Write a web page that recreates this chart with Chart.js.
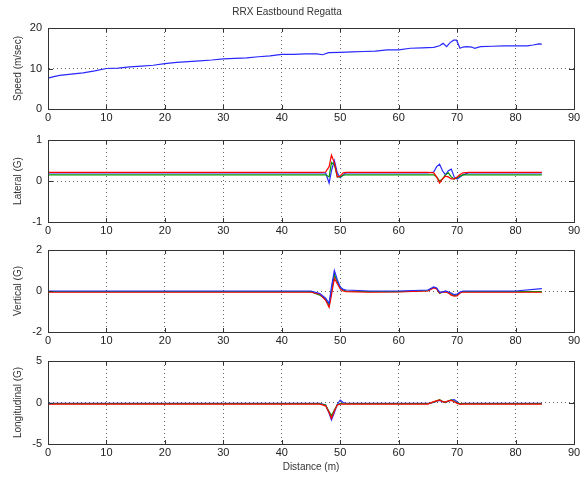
<!DOCTYPE html>
<html>
<head>
<meta charset="utf-8">
<title>RRX Eastbound Regatta</title>
<script src="https://cdn.jsdelivr.net/npm/chart.js@4"></script>
<style>
  body { margin: 0; background: #fff; }
  #wrap { position: relative; width: 583px; height: 481px; }
  canvas { position: absolute; left: 0; }
  .box { position: absolute; box-sizing: border-box; border: 1px solid #333; pointer-events: none; }
</style>
</head>
<body>
<div id="wrap">
  <canvas id="c1" width="583" height="125" style="top:0px"></canvas>
  <canvas id="c2" width="583" height="116" style="top:122px"></canvas>
  <canvas id="c3" width="583" height="116" style="top:232px"></canvas>
  <canvas id="c4" width="583" height="138" style="top:343px"></canvas>
</div>
<script>
// speed trace
const speedDist = [0, 1, 2, 4, 6, 8, 10, 12, 14, 16, 18, 20, 22, 24, 26, 28, 30, 32, 34, 36, 38, 40, 42, 44, 46, 47, 48, 50, 52, 54, 56, 58, 60, 62, 64, 66, 67, 67.6, 68.2, 68.8, 69.4, 69.9, 70.5, 71, 71.6, 72.5, 73, 74, 76, 78, 80, 82, 83, 84, 84.5];
const speed =     [7.6, 8.0, 8.3, 8.6, 8.9, 9.4, 10.0, 10.1, 10.4, 10.6, 10.8, 11.2, 11.5, 11.7, 11.9, 12.1, 12.4, 12.5, 12.6, 12.9, 13.1, 13.5, 13.5, 13.6, 13.6, 13.4, 13.9, 14.0, 14.1, 14.2, 14.3, 14.6, 14.6, 15.0, 15.1, 15.2, 15.6, 16.2, 15.4, 16.4, 17.0, 17.0, 15.0, 15.3, 15.4, 15.3, 15.0, 15.4, 15.5, 15.6, 15.6, 15.6, 15.8, 16.1, 16.0];

// accelerometer traces (three sensors: blue, green, red)
const gDist = [0, 10, 20, 30, 40, 45, 46.5, 47.5, 48.1, 48.5, 49, 49.5, 50, 50.5, 51, 55, 60, 65, 66, 66.5, 67, 67.5, 68, 68.5, 69, 69.5, 70, 70.5, 71, 72, 75, 80, 84.5];

const latBlue  = [0.2, 0.2, 0.2, 0.2, 0.2, 0.2, 0.2, 0.2, -0.05, 0.25, 0.5, 0.2, 0.08, 0.15, 0.2, 0.2, 0.2, 0.2, 0.22, 0.35, 0.41, 0.25, 0.15, 0.25, 0.29, 0.1, 0.05, 0.1, 0.15, 0.2, 0.2, 0.2, 0.2];
const latGreen = [0.15, 0.15, 0.15, 0.15, 0.15, 0.15, 0.15, 0.15, 0.1, 0.45, 0.4, 0.1, 0.1, 0.14, 0.15, 0.15, 0.15, 0.15, 0.15, 0.1, 0.0, 0.05, 0.15, 0.2, 0.1, 0.05, 0.08, 0.12, 0.15, 0.15, 0.15, 0.15, 0.15];
const latRed   = [0.21, 0.21, 0.21, 0.21, 0.21, 0.21, 0.21, 0.22, 0.35, 0.63, 0.45, 0.1, 0.12, 0.2, 0.21, 0.21, 0.21, 0.21, 0.2, 0.1, -0.05, 0.05, 0.12, 0.1, 0.05, 0.05, 0.1, 0.16, 0.2, 0.21, 0.21, 0.21, 0.21];

const vertBlue  = [0, 0, 0, 0, 0, 0, -0.12, -0.35, -0.6, 0.2, 1.0, 0.55, 0.2, 0.08, 0.05, 0, 0, 0.05, 0.2, 0.15, -0.05, -0.05, 0, -0.05, -0.1, -0.18, -0.15, -0.05, 0, 0, 0, 0, 0.12];
const vertGreen = [-0.03, -0.03, -0.03, -0.03, -0.03, -0.03, -0.2, -0.4, -0.7, 0.0, 0.8, 0.45, 0.15, 0.05, 0, -0.03, -0.03, 0.02, 0.18, 0.12, -0.12, -0.05, -0.02, -0.08, -0.15, -0.22, -0.2, -0.08, -0.03, -0.03, -0.03, -0.03, -0.03];
const vertRed   = [-0.06, -0.06, -0.06, -0.06, -0.06, -0.06, -0.15, -0.45, -0.8, -0.2, 0.62, 0.35, 0.1, 0.0, -0.03, -0.06, -0.05, 0.0, 0.15, 0.1, -0.1, -0.05, -0.05, -0.1, -0.2, -0.25, -0.24, -0.1, -0.05, -0.06, -0.06, -0.06, -0.06];

const lonBlue  = [-0.1, -0.1, -0.1, -0.1, -0.1, -0.1, -0.1, -0.3, -1.3, -2.1, -1.2, -0.2, 0.3, 0.0, -0.1, -0.1, -0.1, -0.1, 0.0, 0.15, 0.25, 0.1, 0.0, 0.15, 0.3, 0.35, 0.1, -0.2, -0.1, -0.1, -0.1, -0.1, -0.1];
const lonGreen = [-0.15, -0.15, -0.15, -0.15, -0.15, -0.15, -0.15, -0.3, -1.1, -1.6, -0.9, -0.3, -0.1, -0.15, -0.15, -0.15, -0.15, -0.15, 0.05, 0.2, 0.35, 0.15, 0.0, 0.2, 0.3, 0.15, -0.05, -0.15, -0.15, -0.15, -0.15, -0.15, -0.15];
const lonRed   = [-0.2, -0.2, -0.2, -0.2, -0.2, -0.2, -0.2, -0.4, -1.2, -1.9, -1.0, -0.3, -0.2, -0.2, -0.2, -0.2, -0.2, -0.2, 0.1, 0.2, 0.3, 0.1, 0.05, 0.2, 0.25, 0.1, -0.1, -0.2, -0.2, -0.2, -0.2, -0.2, -0.2];

const xTicks = [0, 10, 20, 30, 40, 50, 60, 70, 80, 90];

const BLUE = 'rgb(40,40,255)';
const GREEN = 'rgb(0,150,0)';
const RED = 'rgb(255,0,0)';
const AXIS = '#333';
const FONT = { family: 'Liberation Sans, Arial, sans-serif', size: 11 };

const pts = (xs, ys) => xs.map((x, k) => ({ x: x, y: ys[k] }));

// short inward tick marks on all four sides, matlab style
const inTicks = {
  id: 'inTicks',
  afterDatasetsDraw(chart) {
    const { ctx, chartArea: a, scales } = chart;
    ctx.save();
    ctx.setLineDash([]);
    ctx.strokeStyle = AXIS;
    ctx.lineWidth = 1;
    ctx.beginPath();
    scales.x.ticks.forEach(tk => {
      const px = Math.round(scales.x.getPixelForValue(tk.value)) + 0.5;
      ctx.moveTo(px, a.bottom); ctx.lineTo(px, a.bottom - 4);
      ctx.moveTo(px, a.top); ctx.lineTo(px, a.top + 4);
    });
    scales.y.ticks.forEach(tk => {
      const py = Math.round(scales.y.getPixelForValue(tk.value)) + 0.5;
      ctx.moveTo(a.left, py); ctx.lineTo(a.left + 5, py);
      ctx.moveTo(a.right, py); ctx.lineTo(a.right - 5, py);
    });
    ctx.stroke();
    ctx.restore();
  }
};

// top/right axes only carry the box edges
const edge = (pos, min, max) => ({
  type: 'linear', position: pos, min: min, max: max,
  ticks: { display: false },
  grid: { display: false, drawTicks: false },
  border: { display: true, color: AXIS, width: 1 },
  afterFit: s => { if (pos === 'top') s.height = 0; else s.width = 0; }
});

function makeChart(id, opts) {
  const canvas = document.getElementById(id);
  const chart = new Chart(canvas, {
    type: 'line',
    data: { datasets: opts.sets.map(s => ({
      data: s.data, borderColor: s.color, borderWidth: 1.2,
      pointRadius: 0, tension: 0, fill: false
    })) },
    options: {
      responsive: false,
      animation: false,
      layout: { padding: { left: 0, right: 9, top: opts.padTop, bottom: 0 } },
      plugins: {
        legend: { display: false },
        tooltip: { enabled: false },
        title: opts.title ? {
          display: true, text: opts.title, color: AXIS,
          font: { family: FONT.family, size: 10, weight: 'normal' },
          padding: { top: 6, bottom: 10 }
        } : { display: false }
      },
      scales: {
        x: {
          type: 'linear', min: 0, max: 90,
          afterBuildTicks: s => { s.ticks = xTicks.map(v => ({ value: v })); },
          afterFit: s => { s.height = opts.xHeight; },
          ticks: { color: '#222', font: FONT, padding: 2, maxRotation: 0 },
          grid: { color: 'rgba(0,0,0,0.6)', drawTicks: false },
          border: { display: true, color: AXIS, width: 1, dash: [1, 3] },
          title: opts.xTitle ? {
            display: true, text: opts.xTitle, color: AXIS,
            font: { family: FONT.family, size: 10 }, padding: { top: 0, bottom: 8 }
          } : { display: false }
        },
        y: {
          min: opts.yMin, max: opts.yMax,
          afterBuildTicks: s => { s.ticks = opts.yTicks.map(v => ({ value: v })); },
          afterFit: s => { s.width = 48; },
          ticks: { color: '#222', font: FONT, padding: 6 },
          grid: { color: 'rgba(0,0,0,0.6)', drawTicks: false },
          border: { display: true, color: AXIS, width: 1, dash: [1, 3] },
          title: {
            display: true, text: opts.yTitle, color: AXIS,
            font: { family: FONT.family, size: 10 }, padding: { top: 12, bottom: 0 }
          }
        },
        xTop: edge('top', 0, 90),
        yRight: edge('right', opts.yMin, opts.yMax)
      }
    },
    plugins: [inTicks]
  });

  // solid axes box laid over the plot area, taken from the chart's own layout
  const a = chart.chartArea;
  const box = document.createElement('div');
  box.className = 'box';
  box.style.left = (canvas.offsetLeft + Math.round(a.left)) + 'px';
  box.style.top = (canvas.offsetTop + Math.round(a.top)) + 'px';
  box.style.width = (Math.round(a.right - a.left) + 1) + 'px';
  box.style.height = (Math.round(a.bottom - a.top) + 1) + 'px';
  document.getElementById('wrap').appendChild(box);
  return chart;
}

makeChart('c1', {
  title: 'RRX Eastbound Regatta', padTop: 0, xHeight: 16,
  yMin: 0, yMax: 20, yTicks: [0, 10, 20], yTitle: 'Speed (m/sec)',
  sets: [{ data: pts(speedDist, speed), color: BLUE }]
});

makeChart('c2', {
  padTop: 18, xHeight: 16,
  yMin: -1, yMax: 1, yTicks: [-1, 0, 1], yTitle: 'Lateral (G)',
  sets: [
    { data: pts(gDist, latRed), color: RED },
    { data: pts(gDist, latGreen), color: GREEN },
    { data: pts(gDist, latBlue), color: BLUE }
  ]
});

makeChart('c3', {
  padTop: 18, xHeight: 16,
  yMin: -2, yMax: 2, yTicks: [-2, 0, 2], yTitle: 'Vertical (G)',
  sets: [
    { data: pts(gDist, vertBlue), color: BLUE },
    { data: pts(gDist, vertRed), color: RED },
    { data: pts(gDist, vertGreen), color: GREEN }
  ]
});

makeChart('c4', {
  padTop: 18, xHeight: 37, xTitle: 'Distance (m)',
  yMin: -5, yMax: 5, yTicks: [-5, 0, 5], yTitle: 'Longitudinal (G)',
  sets: [
    { data: pts(gDist, lonRed), color: RED },
    { data: pts(gDist, lonGreen), color: GREEN },
    { data: pts(gDist, lonBlue), color: BLUE }
  ]
});
</script>
</body>
</html>
